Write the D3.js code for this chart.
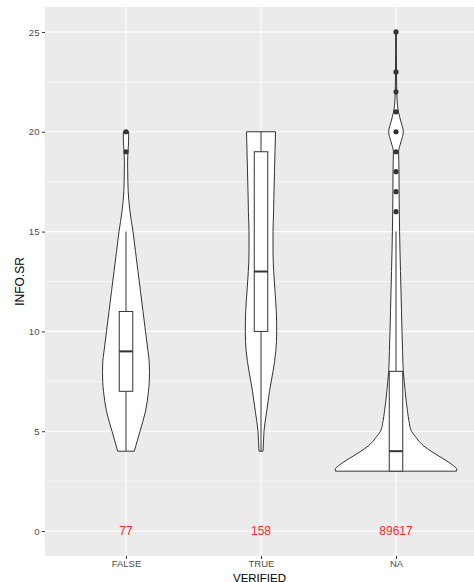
<!DOCTYPE html>
<html>
<head>
<meta charset="utf-8">
<script src="https://cdn.jsdelivr.net/npm/d3@7"></script>
<style>
  html, body { margin: 0; padding: 0; background: #ffffff; }
  svg { display: block; }
  text { font-family: "Liberation Sans", Arial, Helvetica, sans-serif; }
</style>
</head>
<body>
<svg id="chart" width="474" height="582"></svg>
<script>
// ---------------- data ----------------
const categories = ["FALSE", "TRUE", "NA"];
const counts = [77, 158, 89617];
const yTicks = [0, 5, 10, 15, 20, 25];
const yMinorTicks = [2.5, 7.5, 12.5, 17.5, 22.5];

// violin density profiles (value, relative density)
const falseLevels  = [4, 5, 6, 7, 7.5, 8, 8.5, 9, 10, 11, 12, 13, 14, 15, 16, 17, 18, 18.5, 19, 19.5, 20];
const falseDensity = [8.3, 14, 19.5, 22.5, 23.3, 23.5, 23.2, 22, 19.5, 17, 14.5, 12, 9.5, 7, 4, 2.2, 1.7, 1.6, 2.0, 2.6, 2.7];

const trueLevels  = [4, 4.5, 5, 6, 7, 8, 9, 10, 11, 12, 13, 14, 15, 16, 17, 18, 19, 20];
const trueDensity = [2, 2.5, 3, 5.7, 8.5, 12, 14.8, 15.7, 15.3, 14, 12.7, 12, 12, 12.6, 13, 13.5, 14, 14.5];

const naLevels  = [3, 3.1, 3.25, 3.5, 3.75, 4, 4.25, 4.5, 4.75, 5, 5.5, 6, 6.5, 7, 7.5, 8, 9, 10, 11, 12, 13, 14, 15, 16, 17, 18, 18.5, 19, 19.5, 20, 20.5, 21, 21.5, 22, 23, 24, 25];
const naDensity = [60.5, 60.75, 58, 51, 43, 35, 28, 23, 19, 15.5, 13, 11.5, 10.2, 9.2, 8.2, 7.3, 6.6, 6, 5.5, 5, 4.5, 4, 3.6, 3.3, 3.1, 3, 2.8, 2.6, 5, 7.3, 5, 2.4, 1.2, 0.7, 0.5, 0.4, 0.4];

// box plot statistics
const boxLower   = [7, 10, 3];
const boxMedian  = [9, 13, 4];
const boxUpper   = [11, 19, 8];
const whiskerLow = [4, 4, 3];
const whiskerHigh= [15, 20, 15];
const outliers = [
  [19, 20],
  [],
  [16, 17, 18, 19, 20, 21, 22, 23, 25]
];

const violins = [
  { levels: falseLevels, density: falseDensity },
  { levels: trueLevels,  density: trueDensity },
  { levels: naLevels,    density: naDensity }
];

// ---------------- layout ----------------
const panel = { left: 45, top: 7, right: 477, bottom: 556 };

const svg = d3.select("#chart");

const x = d3.scaleLinear().domain([0.4, categories.length + 0.6]).range([panel.left, panel.right]);
const y = d3.scaleLinear().domain([-1.25, 26.25]).range([panel.bottom, panel.top]);
const step = x(2) - x(1);

const maxDensity = d3.max(violins, v => d3.max(v.density));
const wScale = d3.scaleLinear().domain([0, maxDensity]).range([0, 0.45 * step]);

// panel background
svg.append("rect")
  .attr("x", panel.left).attr("y", panel.top)
  .attr("width", panel.right - panel.left).attr("height", panel.bottom - panel.top)
  .attr("fill", "#EBEBEB");

const g = svg.append("g");

// minor grid
g.selectAll("line.minor").data(yMinorTicks).enter().append("line")
  .attr("x1", panel.left).attr("x2", panel.right)
  .attr("y1", d => y(d)).attr("y2", d => y(d))
  .attr("stroke", "#ffffff").attr("stroke-width", 0.55);

// major grid
g.selectAll("line.majorY").data(yTicks).enter().append("line")
  .attr("x1", panel.left).attr("x2", panel.right)
  .attr("y1", d => y(d)).attr("y2", d => y(d))
  .attr("stroke", "#ffffff").attr("stroke-width", 1.1);

g.selectAll("line.majorX").data(categories).enter().append("line")
  .attr("x1", (d, i) => x(i + 1)).attr("x2", (d, i) => x(i + 1))
  .attr("y1", panel.top).attr("y2", panel.bottom)
  .attr("stroke", "#ffffff").attr("stroke-width", 1.1);

// violins
violins.forEach((v, i) => {
  const cx = x(i + 1);
  const pts = v.levels.map((lv, k) => ({ v: lv, d: v.density[k] }));
  const area = d3.area()
    .curve(d3.curveMonotoneY)
    .y(d => y(d.v))
    .x0(d => cx - wScale(d.d))
    .x1(d => cx + wScale(d.d));
  g.append("path")
    .attr("d", area(pts) + "")
    .attr("fill", "#ffffff")
    .attr("stroke", "#333333")
    .attr("stroke-width", 1.0)
    .attr("stroke-linejoin", "round");
});

// boxplots
const boxHalf = 0.05 * step;
categories.forEach((c, i) => {
  const cx = x(i + 1);
  g.append("line")
    .attr("x1", cx).attr("x2", cx)
    .attr("y1", y(boxUpper[i])).attr("y2", y(whiskerHigh[i]))
    .attr("stroke", "#333333").attr("stroke-width", 1);
  g.append("line")
    .attr("x1", cx).attr("x2", cx)
    .attr("y1", y(boxLower[i])).attr("y2", y(whiskerLow[i]))
    .attr("stroke", "#333333").attr("stroke-width", 1);
  g.append("rect")
    .attr("x", cx - boxHalf).attr("width", 2 * boxHalf)
    .attr("y", y(boxUpper[i])).attr("height", y(boxLower[i]) - y(boxUpper[i]))
    .attr("fill", "#ffffff").attr("stroke", "#333333").attr("stroke-width", 1);
  g.append("line")
    .attr("x1", cx - boxHalf).attr("x2", cx + boxHalf)
    .attr("y1", y(boxMedian[i])).attr("y2", y(boxMedian[i]))
    .attr("stroke", "#333333").attr("stroke-width", 2);
  g.selectAll(null).data(outliers[i]).enter().append("circle")
    .attr("cx", cx).attr("cy", d => y(d)).attr("r", 2.6)
    .attr("fill", "#333333");
  g.append("text")
    .attr("x", cx).attr("y", y(0))
    .attr("dy", "0.35em")
    .attr("text-anchor", "middle")
    .attr("fill", "#FF2A2A")
    .attr("font-size", "12px")
    .text(counts[i]);
});

// axes
const yAxis = d3.axisLeft(y).tickValues(yTicks).tickSize(3).tickPadding(2.5);
const yG = svg.append("g").attr("transform", `translate(${panel.left},0)`).call(yAxis);
yG.select(".domain").remove();
yG.selectAll(".tick line").attr("stroke", "#333333");
yG.selectAll(".tick text").attr("fill", "#4D4D4D").attr("font-size", "9.6px")
  .attr("font-family", "Liberation Sans, Arial, sans-serif");

const xAxis = d3.axisBottom(x).tickValues(categories.map((c, i) => i + 1))
  .tickFormat((d, i) => categories[i]).tickSize(3).tickPadding(1.5);
const xG = svg.append("g").attr("transform", `translate(0,${panel.bottom})`).call(xAxis);
xG.select(".domain").remove();
xG.selectAll(".tick line").attr("stroke", "#333333");
xG.selectAll(".tick text").attr("fill", "#4D4D4D").attr("font-size", "9.5px")
  .attr("font-family", "Liberation Sans, Arial, sans-serif");

// axis titles
svg.append("text")
  .attr("x", (panel.left + 474) / 2).attr("y", 581.5)
  .attr("text-anchor", "middle")
  .attr("font-size", "11.5px").attr("fill", "#000000")
  .text("VERIFIED");

svg.append("text")
  .attr("transform", `translate(20,${(panel.top + panel.bottom) / 2}) rotate(-90)`)
  .attr("dy", "0.35em")
  .attr("text-anchor", "middle")
  .attr("font-size", "12px").attr("fill", "#000000")
  .text("INFO.SR");
</script>
</body>
</html>
